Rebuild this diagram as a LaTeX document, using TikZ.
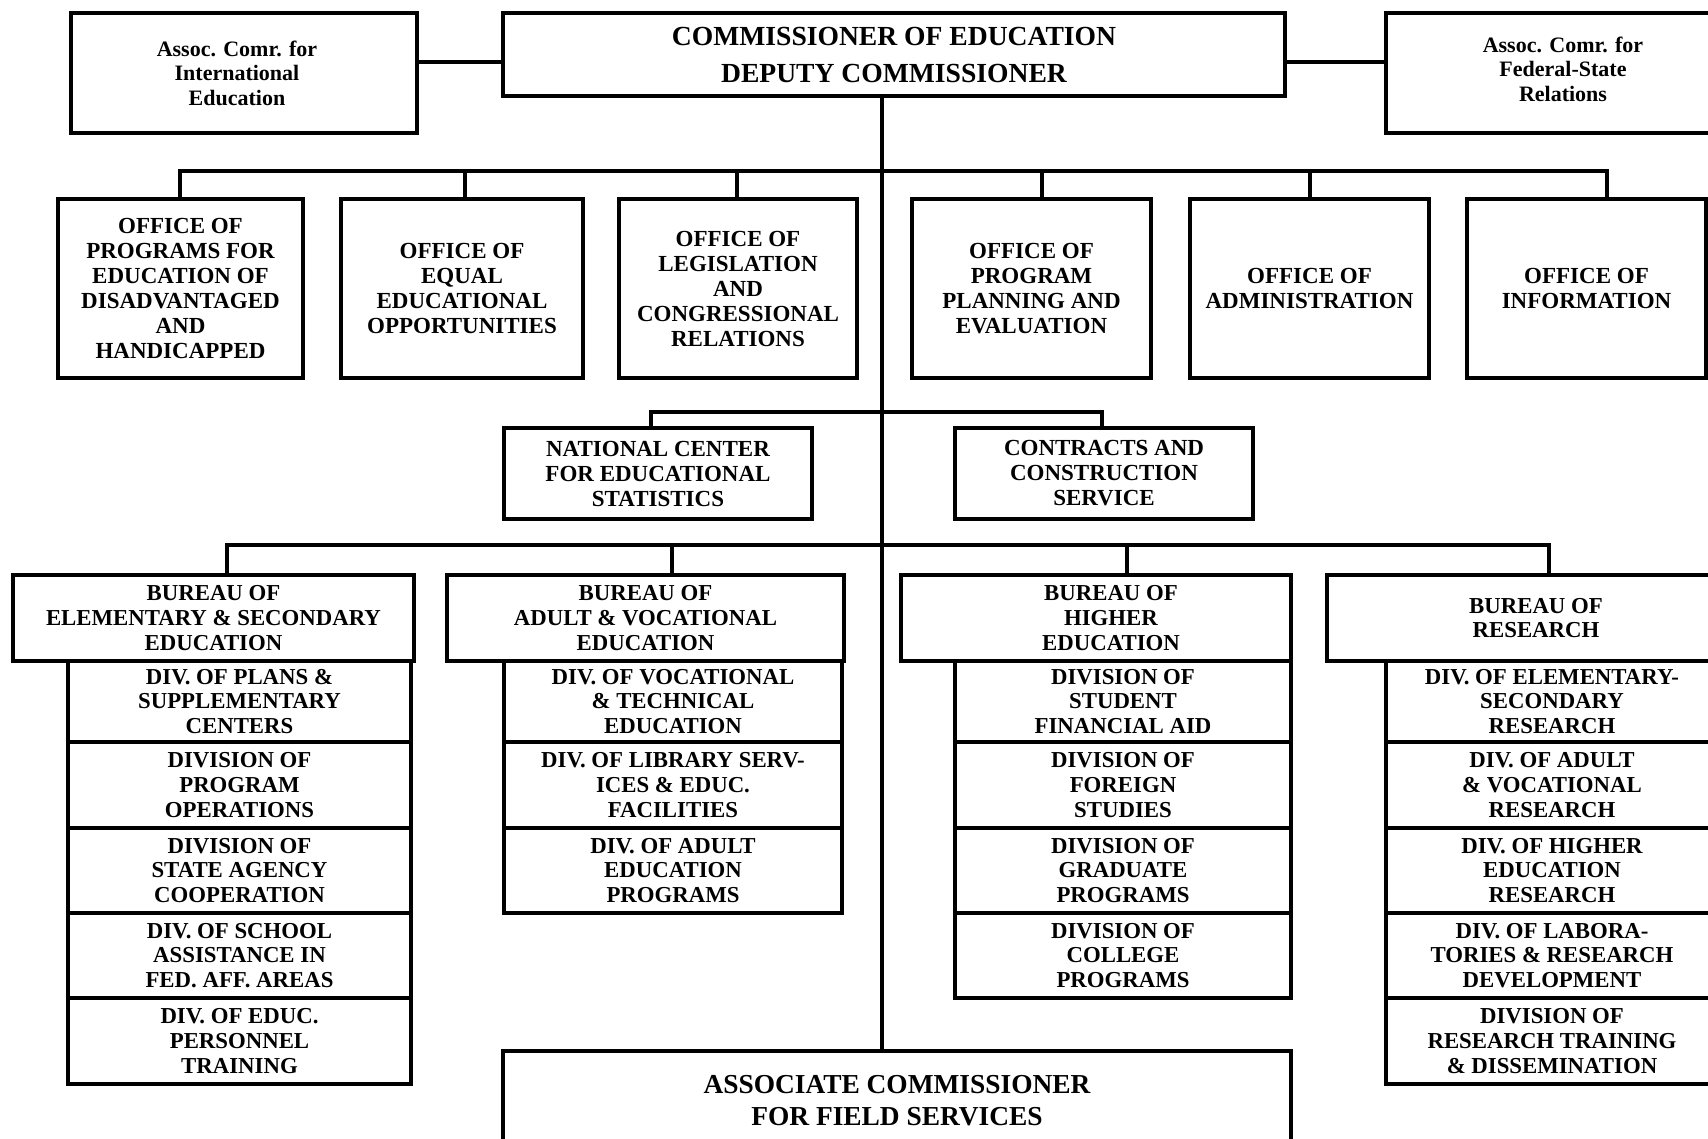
\documentclass[tikz,border=0pt]{standalone}
\usepackage{fontspec}
\setmainfont{Liberation Serif}
\usetikzlibrary{fit}
% a framed box spanning two corners, with its label set centred inside
\newcommand\orgbox[5]{%
  \node[frame, fit={#3 #4}] (#2) {};
  \node[#1] (#2-t) at (#2.center) {#5};}
\begin{document}
\begin{tikzpicture}[x=0.5pt,y=-0.5pt,
  frame/.style={draw, line width=1.9pt, inner sep=0pt},
  label text/.style={inner sep=0pt, align=center},
  office/.style={label text, font=\bfseries\fontsize{11.5}{12.5}\selectfont},
  unit/.style={label text, font=\bfseries\fontsize{11.4}{12.3}\selectfont},
  assoc/.style={label text, font=\bfseries\fontsize{11}{12.2}\selectfont},
  head/.style={label text, font=\bfseries\fontsize{13.8}{18.5}\selectfont},
  field/.style={label text, font=\bfseries\fontsize{13.7}{15.8}\selectfont},
  wire/.style={line width=1.7pt}]
\useasboundingbox (0,0) rectangle (1708,1139);
\clip (0,0) rectangle (1708,1139);

% --- top level ---
\orgbox{head}{top}{(503,13)}{(1285,96)}{COMMISSIONER OF EDUCATION\\DEPUTY COMMISSIONER}
\orgbox{assoc, xshift=-3.5pt}{intl}{(71,13)}{(417,133)}{Assoc. Comr. for\\International\\Education}
\orgbox{assoc, yshift=2pt}{fedst}{(1386,13)}{(1740,133)}{Assoc. Comr. for\\Federal-State\\Relations}

% --- staff offices ---
\orgbox{office}{o1}{(58,199)}{(303,378)}{OFFICE OF\\PROGRAMS FOR\\EDUCATION OF\\DISADVANTAGED\\AND\\HANDICAPPED}
\orgbox{office}{o2}{(341,199)}{(583,378)}{OFFICE OF\\EQUAL\\EDUCATIONAL\\OPPORTUNITIES}
\orgbox{office}{o3}{(619,199)}{(857,378)}{OFFICE OF\\LEGISLATION\\AND\\CONGRESSIONAL\\RELATIONS}
\orgbox{office}{o4}{(912,199)}{(1151,378)}{OFFICE OF\\PROGRAM\\PLANNING AND\\EVALUATION}
\orgbox{office}{o5}{(1190,199)}{(1429,378)}{OFFICE OF\\ADMINISTRATION}
\orgbox{office}{o6}{(1467,199)}{(1706,378)}{OFFICE OF\\INFORMATION}

% --- centre and service ---
\orgbox{office}{nces}{(504,428)}{(812,519)}{NATIONAL CENTER\\FOR EDUCATIONAL\\STATISTICS}
\orgbox{office}{ccs}{(955,428)}{(1253,519)}{CONTRACTS AND\\CONSTRUCTION\\SERVICE}

% --- bureaus ---
\orgbox{unit}{b1}{(13,575)}{(414,661)}{BUREAU OF\\ELEMENTARY \& SECONDARY\\EDUCATION}
\orgbox{unit}{b2}{(447,575)}{(844,661)}{BUREAU OF\\ADULT \& VOCATIONAL\\EDUCATION}
\orgbox{unit, xshift=7.5pt}{b3}{(901,575)}{(1291,661)}{BUREAU OF\\HIGHER\\EDUCATION}
\orgbox{unit}{b4}{(1327,575)}{(1745,661)}{BUREAU OF\\RESEARCH}

% --- divisions: elementary & secondary ---
\orgbox{unit}{d11}{(68,661)}{(411,742)}{DIV. OF PLANS \&\\SUPPLEMENTARY\\CENTERS}
\orgbox{unit}{d12}{(68,742)}{(411,828)}{DIVISION OF\\PROGRAM\\OPERATIONS}
\orgbox{unit}{d13}{(68,828)}{(411,913)}{DIVISION OF\\STATE AGENCY\\COOPERATION}
\orgbox{unit}{d14}{(68,913)}{(411,998)}{DIV. OF SCHOOL\\ASSISTANCE IN\\FED. AFF. AREAS}
\orgbox{unit}{d15}{(68,998)}{(411,1084)}{DIV. OF EDUC.\\PERSONNEL\\TRAINING}

% --- divisions: adult & vocational ---
\orgbox{unit}{d21}{(504,661)}{(842,742)}{DIV. OF VOCATIONAL\\\& TECHNICAL\\EDUCATION}
\orgbox{unit}{d22}{(504,742)}{(842,828)}{DIV. OF LIBRARY SERV-\\ICES \& EDUC.\\FACILITIES}
\orgbox{unit}{d23}{(504,828)}{(842,913)}{DIV. OF ADULT\\EDUCATION\\PROGRAMS}

% --- divisions: higher education ---
\orgbox{unit}{d31}{(955,661)}{(1291,742)}{DIVISION OF\\STUDENT\\FINANCIAL AID}
\orgbox{unit}{d32}{(955,742)}{(1291,828)}{DIVISION OF\\FOREIGN\\STUDIES}
\orgbox{unit}{d33}{(955,828)}{(1291,913)}{DIVISION OF\\GRADUATE\\PROGRAMS}
\orgbox{unit}{d34}{(955,913)}{(1291,998)}{DIVISION OF\\COLLEGE\\PROGRAMS}

% --- divisions: research ---
\orgbox{unit}{d41}{(1386,661)}{(1718,742)}{DIV. OF ELEMENTARY-\\SECONDARY\\RESEARCH}
\orgbox{unit}{d42}{(1386,742)}{(1718,828)}{DIV. OF ADULT\\\& VOCATIONAL\\RESEARCH}
\orgbox{unit}{d43}{(1386,828)}{(1718,913)}{DIV. OF HIGHER\\EDUCATION\\RESEARCH}
\orgbox{unit}{d44}{(1386,913)}{(1718,998)}{DIV. OF LABORA-\\TORIES \& RESEARCH\\DEVELOPMENT}
\orgbox{unit}{d45}{(1386,998)}{(1718,1084)}{DIVISION OF\\RESEARCH TRAINING\\\& DISSEMINATION}

% --- field services ---
\orgbox{field}{fld}{(503,1051)}{(1291,1150)}{ASSOCIATE COMMISSIONER\\FOR FIELD SERVICES}

% --- connectors ---
\coordinate (tx) at (882,0);
\coordinate (ay) at (0,62);
\draw[wire] (top.south -| tx) -- (fld.north -| tx);
\draw[wire] (intl.east |- ay) -- (top.west |- ay);
\draw[wire] (top.east |- ay) -- (fedst.west |- ay);

\coordinate (p1) at (180,171);
\coordinate (p2) at (465,171);
\coordinate (p3) at (737,171);
\coordinate (p4) at (1042,171);
\coordinate (p5) at (1310,171);
\coordinate (p6) at (1607,171);
\draw[wire] (p1 |- o1.north) -- (p1) -- (p6) -- (p6 |- o6.north);
\foreach \i in {2,...,5} \draw[wire] (p\i) -- (p\i |- o\i.north);

\coordinate (q1) at (651,412);
\coordinate (q2) at (1102,412);
\draw[wire] (q1 |- nces.north) -- (q1) -- (q2) -- (q2 |- ccs.north);

\coordinate (r1) at (227,545);
\coordinate (r2) at (672,545);
\coordinate (r3) at (1127,545);
\coordinate (r4) at (1549,545);
\draw[wire] (r1 |- b1.north) -- (r1) -- (r4) -- (r4 |- b4.north);
\draw[wire] (r2) -- (r2 |- b2.north);
\draw[wire] (r3) -- (r3 |- b3.north);
\end{tikzpicture}
\end{document}
